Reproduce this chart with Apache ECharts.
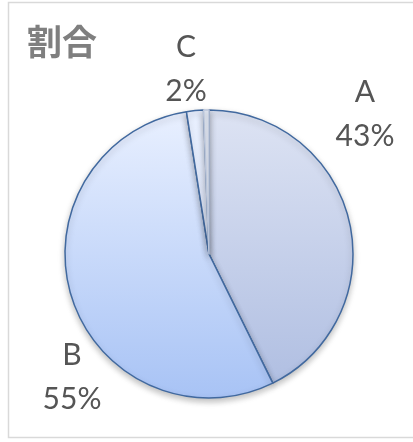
<!DOCTYPE html>
<html>
<head>
<meta charset="utf-8">
<script src="https://cdn.jsdelivr.net/npm/echarts@6/dist/echarts.min.js"></script>
<style>
  html, body { margin: 0; padding: 0; background: #fff; }
  #main { width: 413px; height: 442px; }
</style>
</head>
<body>
<div id="main"></div>
<script>
// data
const categories = ['A', 'B', 'C', 'D']
const shares = [42.7, 54.8, 1.9, 0.6]
const showLabel = [true, true, true, false]

// where the data labels sit (Excel best-fit look)
const labelSpots = [[365, 114], [72, 377], [186, 69]]

const fills = [
  ['#dde3f3', '#aebde1'],
  ['#e9f0ff', '#a8c3f5'],
  ['#e9f0ff', '#dbe6fd'],
  ['#e4eaf6', '#d6dff0']
]
const edges = ['#41699f', '#41699f', '#41699f', '#b9c4d9']

let myChart = echarts.init(document.getElementById('main'))

function grad (c) {
  return {
    type: 'linear', x: 0, y: 110, x2: 0, y2: 398, global: true,
    colorStops: [{ offset: 0, color: c[0] }, { offset: 1, color: c[1] }]
  }
}

let pieData = categories.map(function (name, i) {
  return {
    name: name,
    value: shares[i],
    label: { show: showLabel[i] },
    itemStyle: { color: grad(fills[i]), borderColor: edges[i] }
  }
})

myChart.setOption({
  animation: false,
  title: {
    text: '割合',
    left: 22,
    top: 19,
    textStyle: {
      fontFamily: 'Noto Sans CJK JP',
      fontSize: 35,
      fontWeight: 'bold',
      color: '#7f7f7f'
    }
  },
  graphic: [{
    type: 'rect',
    shape: { x: 8.5, y: 2.5, width: 420, height: 435 },
    style: { fill: 'none', stroke: '#d9d9d9', lineWidth: 1.5 },
    silent: true
  }],
  series: [{
    type: 'pie',
    center: [209, 254],
    radius: 144,
    startAngle: 90,
    clockwise: true,
    percentPrecision: 0,
    avoidLabelOverlap: false,
    labelLine: { show: false },
    label: {
      position: 'inside',
      formatter: '{b}\n{d}%',
      fontFamily: 'Lato',
      fontSize: 30,
      lineHeight: 44,
      color: '#555555'
    },
    labelLayout: function (params) {
      let p = labelSpots[params.dataIndex]
      if (!p) return {}
      return { x: p[0], y: p[1], align: 'center', verticalAlign: 'middle' }
    },
    itemStyle: {
      borderWidth: 1.5,
      shadowBlur: 6,
      shadowOffsetY: 3,
      shadowColor: 'rgba(0,0,0,0.25)'
    },
    emphasis: { disabled: true },
    data: pieData
  }]
})
</script>
</body>
</html>
